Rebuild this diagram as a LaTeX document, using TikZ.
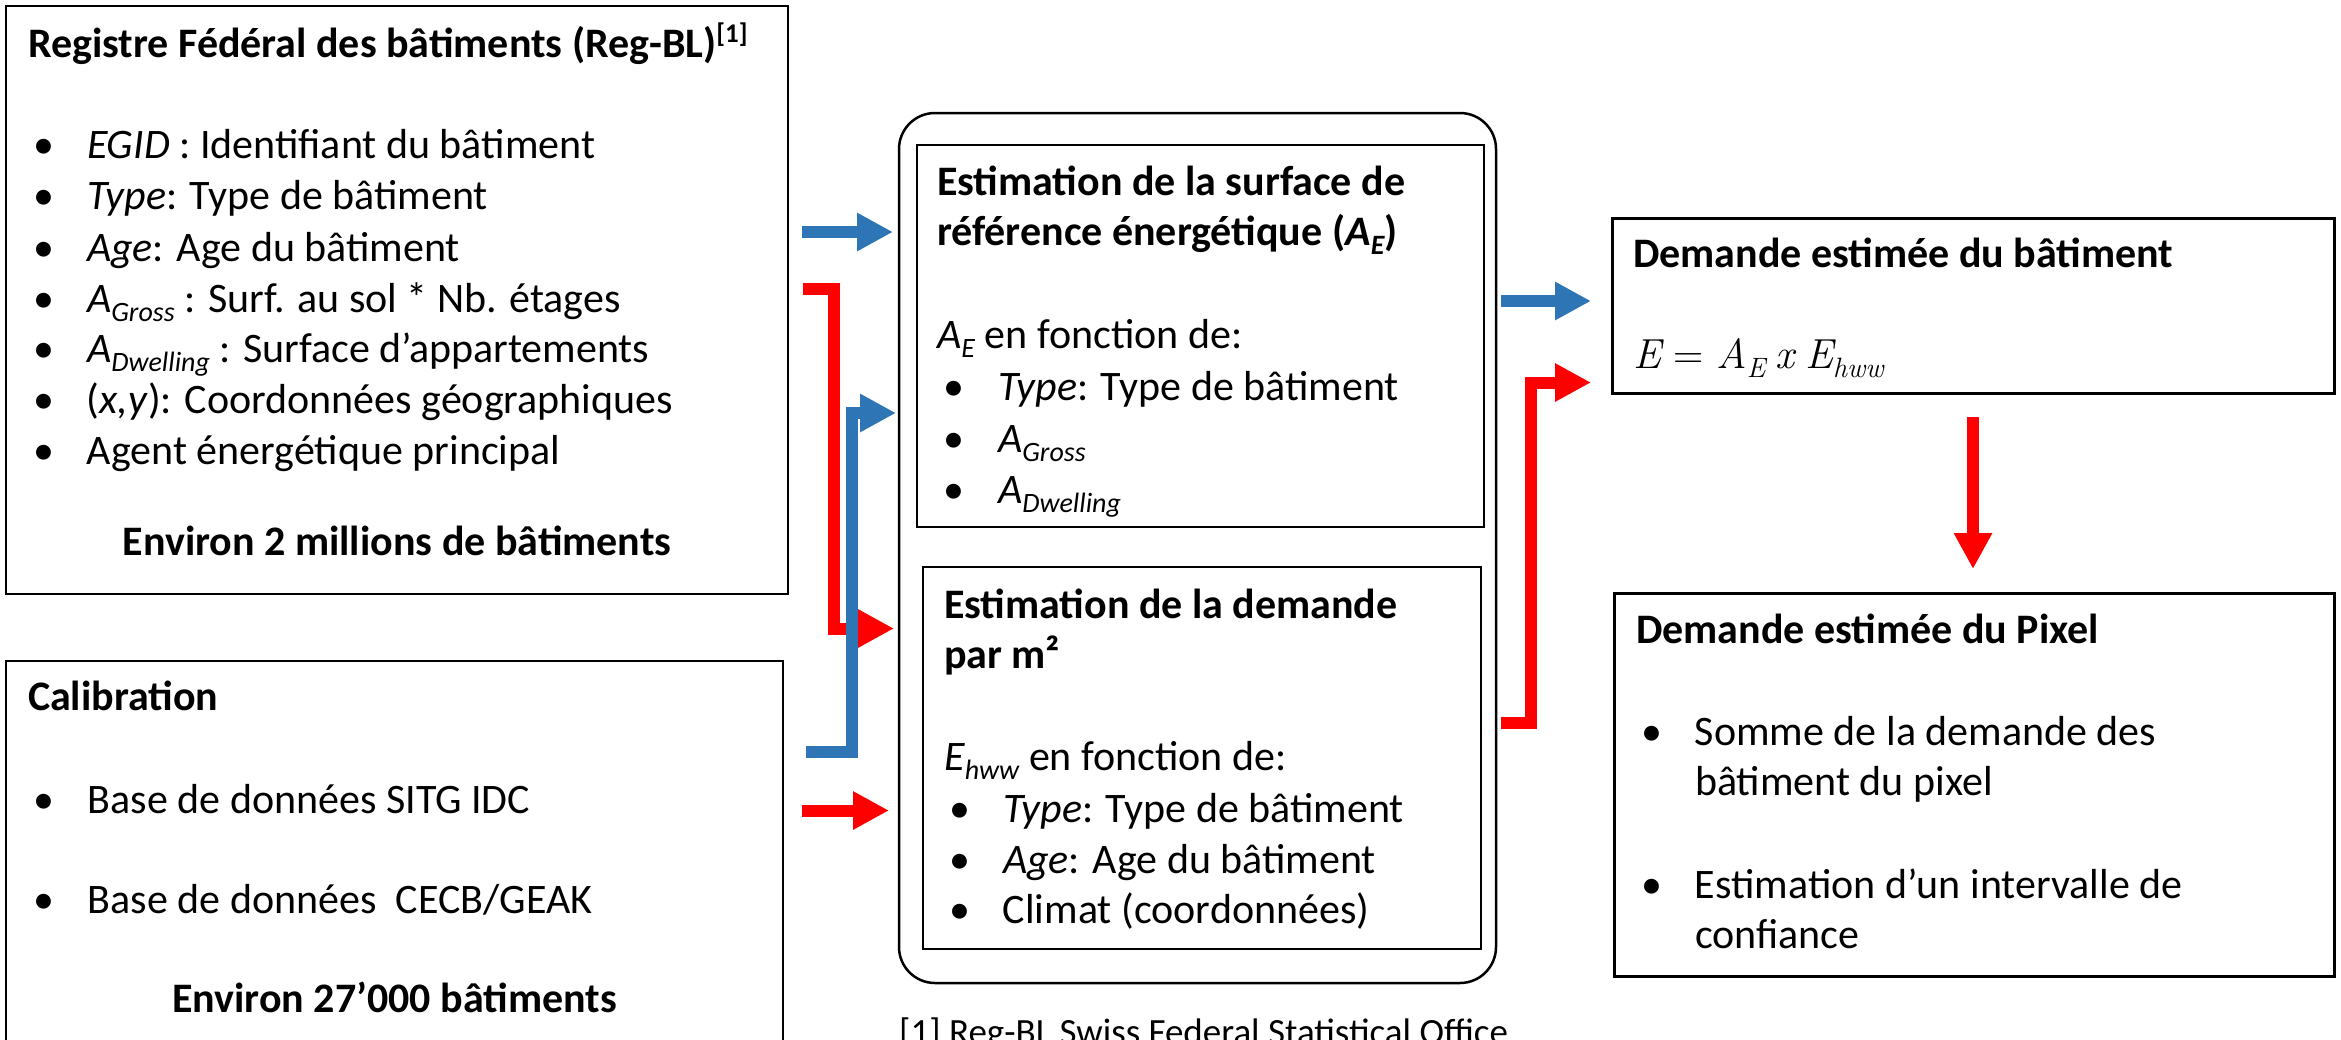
\documentclass[tikz,border=0pt]{standalone}
\usepackage{fontspec}
\setsansfont{Carlito}
\renewcommand{\familydefault}{\sfdefault}
\usetikzlibrary{arrows.meta}
\definecolor{myblue}{RGB}{46,117,182}
\definecolor{myred}{RGB}{255,0,0}
\newcommand\sbs[1]{\raisebox{-9pt}{\fontsize{28}{28}\selectfont #1}}
\newcommand\sps[1]{\raisebox{15pt}{\fontsize{27}{27}\selectfont #1}}
\newcommand\Asb[1]{\textit{A}\sbs{\textit{#1}}}
\newcommand\bul[1]{\makebox[#1][l]{•}}
\begin{document}
\begin{tikzpicture}[x=1pt,y=-1pt,
  pbox/.style={draw=black, line width=2.5pt, inner sep=0pt, outer sep=0pt, anchor=north west, fill=white},
  tline/.style={anchor=base west, inner sep=0pt, outer sep=0pt, font=\fontsize{42}{51}\selectfont},
  tbold/.style={tline, font=\fontsize{42}{51}\selectfont\bfseries},
  fatarrow/.style={line width=12pt, line join=miter, -{Triangle[length=36pt,width=36pt]}},
  fatblue/.style={fatarrow, color=myblue},
  fatred/.style={fatarrow, color=myred}]
\useasboundingbox (0,0) rectangle (2341,1039);
\clip (0,0) rectangle (2341,1039);
\fill[white] (0,0) rectangle (2341,1039);

% boxes
\node[pbox, minimum width=782pt, minimum height=588pt] (regbl) at (6,6) {};
\node[pbox, minimum width=777pt, minimum height=420pt] (calib) at (6,661) {};
\node[pbox, rounded corners=36pt, minimum width=597pt, minimum height=870pt] (outer) at (899,113) {};
\node[pbox, minimum width=567pt, minimum height=382pt] (surf) at (917,145) {};
\node[pbox, minimum width=558pt, minimum height=382pt] (dem) at (923,567) {};
\node[pbox, line width=3pt, minimum width=722pt, minimum height=175pt] (batim) at (1612,218) {};
\node[pbox, line width=3pt, minimum width=720pt, minimum height=383pt] (pixel) at (1614,593) {};

% Reg-BL box text
\node[tbold] (regT) at (28,57) {Registre Fédéral des bâtiments (Reg-BL)\sps{[1]}};
\node[tline] (reg1) at (33,158) {\bul{54pt}\textit{EGID} : Identifiant du bâtiment};
\node[tline] (reg2) at (33,209) {\bul{54pt}\textit{Type}: Type de bâtiment};
\node[tline] (reg3) at (33,261) {\bul{54pt}\textit{Age}: Age du bâtiment};
\node[tline] (reg4) at (33,312) {\bul{54pt}\Asb{Gross} : Surf. au sol * Nb. étages};
\node[tline] (reg5) at (33,362) {\bul{54pt}\Asb{Dwelling} : Surface d’appartements};
\node[tline] (reg6) at (33,413) {\bul{54pt}(\textit{x,y}): Coordonnées géographiques};
\node[tline] (reg7) at (33,464) {\bul{54pt}Agent énergétique principal};
\node[tbold, anchor=base] (regE) at (397,555) {Environ 2 millions de bâtiments};

% Calibration box text
\node[tbold] (calT) at (28,710) {Calibration};
\node[tline] (cal1) at (33,813) {\bul{55pt}Base de données SITG IDC};
\node[tline] (cal2) at (33,913) {\bul{55pt}Base de données\ \ CECB/GEAK};
\node[tbold, anchor=base] (calE) at (394.5,1012) {Environ 27’000 bâtiments};

% surface box text
\node[tbold] (surT1) at (937,195) {Estimation de la surface de};
\node[tbold] (surT2) at (937,245) {référence énergétique (\textit{A}\sbs{\textit{E}})};
\node[tline] (sur0) at (937,348) {\textit{A}\sbs{\textit{E}} en fonction de:};
\node[tline] (sur1) at (943,400) {\bul{55pt}\textit{Type}: Type de bâtiment};
\node[tline] (sur2) at (943,452) {\bul{55pt}\Asb{Gross}};
\node[tline] (sur3) at (943,503) {\bul{55pt}\Asb{Dwelling}};

% demand box text
\node[tbold] (demT1) at (944,618) {Estimation de la demande};
\node[tbold] (demT2) at (944,668) {par m²};
\node[tline] (dem0) at (944,770) {\textit{E}\sbs{\textit{hww}} en fonction de:};
\node[tline] (dem1) at (949,822) {\bul{54pt}\textit{Type}: Type de bâtiment};
\node[tline] (dem2) at (949,873) {\bul{54pt}\textit{Age}: Age du bâtiment};
\node[tline] (dem3) at (949,923) {\bul{54pt}Climat (coordonnées)};

% building demand box text
\node[tbold] (batT) at (1633,267) {Demande estimée du bâtiment};
\node[tline] (batF) at (1633,368) {\rmfamily\itshape E\hspace{0.3em}\upshape=\hspace{0.3em}\itshape A\sbs{E}\hspace{0.25em}x\hspace{0.25em}E\sbs{hww}};

% pixel box text
\node[tbold] (pixT) at (1636,643) {Demande estimée du Pixel};
\node[tline] (pix1) at (1641,745) {\bul{54pt}Somme de la demande des};
\node[tline] (pix1b) at (1695,795) {bâtiment du pixel};
\node[tline] (pix2) at (1641,898) {\bul{54pt}Estimation d’un intervalle de};
\node[tline] (pix2b) at (1695,948) {confiance};

% footnote
\node[anchor=base west, inner sep=0pt, font=\fontsize{37}{44}\selectfont] (fn) at (899,1044) {[1] Reg-BL Swiss Federal Statistical Office};

% arrows
\coordinate (a1s) at (802,232);
\coordinate (a2s) at (803,289);
\coordinate (a2k) at (833.5,628.5);
\coordinate (a3s) at (806,752);
\coordinate (a3k) at (851.5,413);
\coordinate (a4s) at (802,810.5);
\coordinate (a5s) at (1501,301);
\coordinate (a6s) at (1501,723);
\coordinate (a6k) at (1531,382.5);
\coordinate (a7s) at (1973,417);

\draw[fatblue] (a1s) -- ([xshift=-6pt]a1s -| outer.west);
\draw[fatred] (a2s) -| (a2k) -- ([xshift=-5pt]a2k -| outer.west);
\draw[fatblue] (a3s) -| (a3k) -- ([xshift=-3pt]a3k -| outer.west);
\draw[fatred] (a4s) -- ([xshift=-10pt]a4s -| outer.west);
\draw[fatblue] (a5s) -- ([xshift=-21pt]a5s -| batim.west);
\draw[fatred] (a6s) -| (a6k) -- ([xshift=-21pt]a6k -| batim.west);
\draw[fatred] (a7s) -- ([yshift=24pt]a7s |- pixel.north);
\end{tikzpicture}
\end{document}
